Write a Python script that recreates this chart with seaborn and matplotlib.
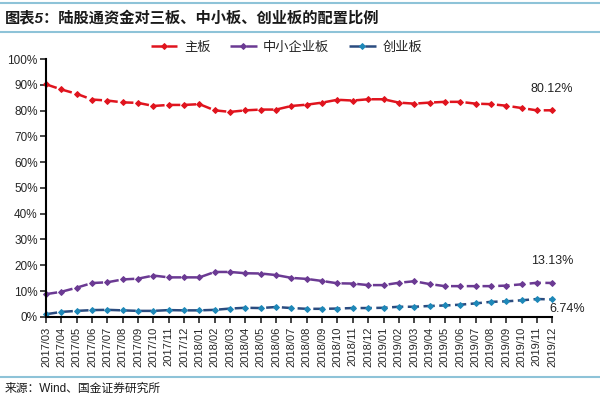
import numpy as np
import pandas as pd
import matplotlib
matplotlib.use("Agg")
import matplotlib.pyplot as plt
import seaborn as sns
from matplotlib.lines import Line2D
from matplotlib.ticker import FuncFormatter

# ===== DATA =====
months = ['2017/03', '2017/04', '2017/05', '2017/06', '2017/07', '2017/08', '2017/09',
          '2017/10', '2017/11', '2017/12', '2018/01', '2018/02', '2018/03', '2018/04',
          '2018/05', '2018/06', '2018/07', '2018/08', '2018/09', '2018/10', '2018/11',
          '2018/12', '2019/01', '2019/02', '2019/03', '2019/04', '2019/05', '2019/06',
          '2019/07', '2019/08', '2019/09', '2019/10', '2019/11', '2019/12']

main_board = [90.2, 88.2, 86.5, 84.3, 83.9, 83.2, 83.0, 81.8, 82.2, 82.2, 82.5, 80.1,
              79.5, 80.1, 80.4, 80.4, 81.8, 82.3, 83.1, 84.2, 83.9, 84.4, 84.4, 83.1,
              82.7, 83.1, 83.4, 83.4, 82.7, 82.5, 81.9, 81.0, 80.1, 80.12]
sme_board = [8.8, 9.7, 11.3, 13.1, 13.4, 14.5, 14.8, 16.0, 15.3, 15.3, 15.3, 17.4,
             17.4, 16.9, 16.8, 16.2, 15.1, 14.7, 13.9, 13.0, 12.9, 12.3, 12.3, 13.2,
             13.8, 12.7, 11.9, 11.9, 11.9, 11.9, 12.1, 12.6, 13.2, 13.13]
gem_board = [1.0, 1.9, 2.3, 2.6, 2.7, 2.5, 2.3, 2.3, 2.6, 2.5, 2.5, 2.7,
             3.2, 3.5, 3.4, 3.8, 3.4, 3.1, 3.1, 3.2, 3.4, 3.4, 3.5, 3.9,
             3.9, 4.2, 4.4, 4.7, 5.2, 5.8, 6.0, 6.4, 6.9, 6.74]

series_names = ['主板', '中小企业板', '创业板']
end_labels = ['80.12%', '13.13%', '6.74%']

df = pd.DataFrame({'month': months, 'idx': np.arange(len(months)),
                   '主板': main_board, '中小企业板': sme_board, '创业板': gem_board})

# ===== STYLE =====
sns.set_style("ticks")
plt.rcParams['font.family'] = ['Liberation Sans', 'Noto Sans CJK SC']
plt.rcParams['axes.unicode_minus'] = False

fig = plt.figure(figsize=(6, 3.99), dpi=100)
ax = fig.add_axes([0.0767, 0.206, 0.8437, 0.646])

line_colors = ['#E0141E', '#6B3A93', '#2B4C80']
marker_colors = ['#E0141E', '#6B3A93', '#1E88B8']

for name, lc, mc in zip(series_names, line_colors, marker_colors):
    sns.lineplot(data=df, x='idx', y=name, ax=ax, color=lc, linestyle=(0, (4.5, 1.8)),
                 linewidth=1.8, marker='D', markersize=3.0, markerfacecolor=mc,
                 markeredgecolor=mc, label=name, clip_on=False)

# end labels
ax.annotate(end_labels[0], (33, main_board[-1]), xytext=(0, 15), textcoords='offset points',
            ha='center', va='center', fontsize=9, color='#222222')
ax.annotate(end_labels[1], (33, sme_board[-1]), xytext=(0, 16), textcoords='offset points',
            ha='center', va='center', fontsize=9, color='#222222')
ax.annotate(end_labels[2], (33, gem_board[-1]), xytext=(11, -7), textcoords='offset points',
            ha='center', va='center', fontsize=9, color='#222222')

ax.set_xlim(0, len(months) - 1)
ax.set_ylim(0, 100)
ax.set_yticks(np.arange(0, 101, 10))
ax.yaxis.set_major_formatter(FuncFormatter(lambda v, p: f'{v:.0f}%'))
ax.set_xticks(df['idx'])
ax.set_xticklabels(months, rotation=90, fontsize=8)
ax.tick_params(axis='y', labelsize=8.5, length=4, width=1.2, pad=2)
ax.tick_params(axis='x', length=4, width=1.2, pad=3)
ax.set_xlabel('')
ax.set_ylabel('')
for s in ['top', 'right']:
    ax.spines[s].set_visible(False)
for s in ['left', 'bottom']:
    ax.spines[s].set_linewidth(1.5)
    ax.spines[s].set_color('black')

ax.legend(loc='center', bbox_to_anchor=(0.475, 1.045), ncol=3, frameon=False,
          fontsize=9.5, handlelength=2.0, columnspacing=1.5, handletextpad=0.5)

# ===== TITLE / SOURCE =====
fig.text(0.008, 0.953, '图表5：陆股通资金对三板、中小板、创业板的配置比例',
         fontsize=11, fontweight='bold', fontstyle='italic', ha='left', va='center',
         color='#1a1a1a')
fig.text(0.008, 0.025, '来源：Wind、国金证券研究所', fontsize=8.5, ha='left',
         va='center', color='#1a1a1a')
for yy in [0.993, 0.920, 0.055]:
    fig.add_artist(Line2D([0, 1], [yy, yy], color='#8EC3D8', linewidth=1.5))

plt.savefig('out.png', dpi=100)
